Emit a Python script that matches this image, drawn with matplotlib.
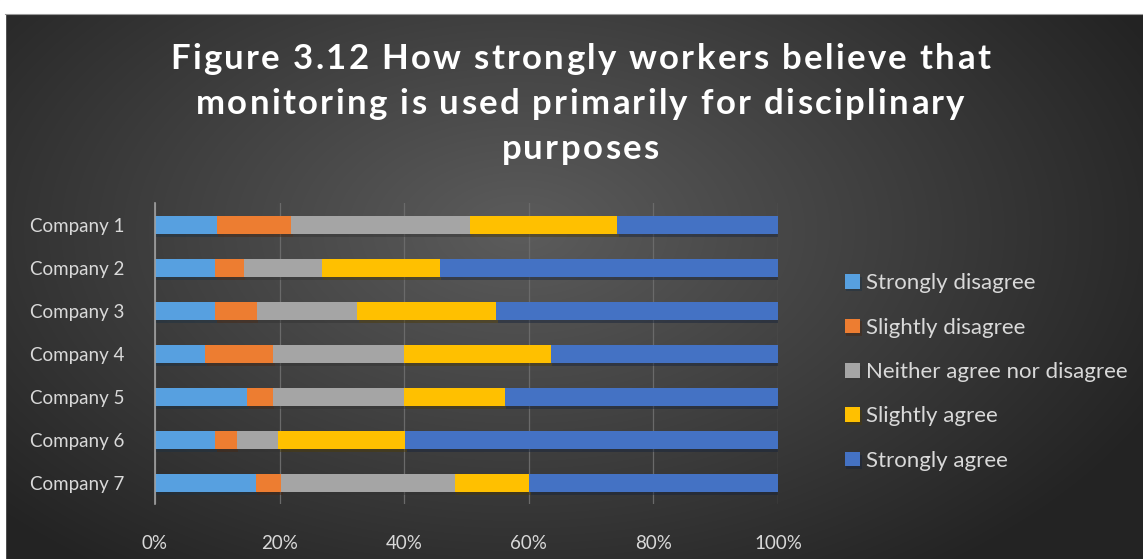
import numpy as np
import matplotlib
matplotlib.use('Agg')
import matplotlib.pyplot as plt
import matplotlib.patheffects as pe
from matplotlib import font_manager as fm
from matplotlib.ft2font import FT2Font
from matplotlib.patches import Rectangle
from matplotlib.ticker import PercentFormatter

companies = ['Company 1', 'Company 2', 'Company 3', 'Company 4',
             'Company 5', 'Company 6', 'Company 7']
series = ['Strongly disagree', 'Slightly disagree', 'Neither agree nor disagree',
          'Slightly agree', 'Strongly agree']
strongly_disagree = [9.9, 9.7, 9.7, 8.1, 14.8, 9.7, 16.2]
slightly_disagree = [12.0, 4.6, 6.6, 10.9, 4.1, 3.4, 4.1]
neither = [28.6, 12.5, 16.2, 20.9, 21.1, 6.7, 27.8]
slightly_agree = [23.7, 18.9, 22.3, 23.6, 16.1, 20.4, 12.0]
strongly_agree = [25.8, 54.3, 45.2, 36.5, 43.9, 59.8, 39.9]
colors = ['#57A0E0', '#ED7D31', '#A5A5A5', '#FFC000', '#4472C4']

title_lines = ['Figure 3.12 How strongly workers believe that',
               'monitoring is used primarily for disciplinary',
               'purposes']

plt.rcParams['font.family'] = ['Lato', 'DejaVu Sans']

W, H = 1143, 559
fig = plt.figure(figsize=(W / 100, H / 100), dpi=100)


def spaced_line(text, xc, baseline, size, track):
    # excel-style letter spacing: place each glyph by its advance + tracking
    path = fm.findfont(fm.FontProperties(family='Lato', weight='bold'))
    font = FT2Font(path)
    font.set_size(size, 100)
    adv = []
    for ch in text:
        g = font.load_char(ord(ch))
        adv.append(g.linearHoriAdvance / 65536.0)
    total = sum(adv) + track * (len(text) - 1)
    x = xc - total / 2.0
    for ch, a in zip(text, adv):
        if ch != ' ':
            fig.text(x / W, 1 - baseline / H, ch, ha='left', va='baseline',
                     color='white', fontsize=size, fontweight='bold')
        x += a + track


# dark radial gradient background
bg = fig.add_axes([0, 0, 1, 1], zorder=-10)
yy, xx = np.mgrid[0:H, 0:W]
r = np.sqrt(((xx - 520) / 700.0) ** 2 + ((yy - 230) / 420.0) ** 2)
shade = np.clip(0.36 - 0.22 * r, 0.14, 0.36)
bg.imshow(np.dstack([shade] * 3), extent=[0, W, H, 0], aspect='auto')
bg.add_patch(Rectangle((0, 0), W, 13, color='white', zorder=3))
bg.add_patch(Rectangle((0, 0), 5, H, color='white', zorder=3))
bg.plot([5, W], [13.5, 13.5], color='#9a9a9a', lw=0.8, zorder=4)
bg.set_xlim(0, W)
bg.set_ylim(H, 0)
bg.axis('off')

ax = fig.add_axes([0.1356, 0.0975, 0.5451, 0.5385])
ax.set_facecolor('none')

data = [strongly_disagree, slightly_disagree, neither, slightly_agree, strongly_agree]
y = np.arange(len(companies))
left = np.zeros(len(companies))
shadow = [pe.SimplePatchShadow(offset=(1, -2), alpha=0.45), pe.Normal()]
for name, vals, c in zip(series, data, colors):
    bars = ax.barh(y, vals, left=left, height=0.42, color=c, label=name, zorder=3)
    for b in bars:
        b.set_path_effects(shadow)
    left += np.array(vals)

ax.set_xlim(0, 100)
ax.set_ylim(6.5, -0.5)
ax.set_yticks(y)
ax.set_yticklabels(companies)
ax.set_xticks([0, 20, 40, 60, 80, 100])
ax.xaxis.set_major_formatter(PercentFormatter(decimals=0))
ax.tick_params(axis='both', length=0, labelsize=13.5, colors='#d9d9d9')
ax.tick_params(axis='x', pad=22)
ax.tick_params(axis='y', pad=22)
ax.grid(axis='x', color='#6a6a6a', lw=0.9, zorder=0)
for s in ['top', 'right', 'bottom']:
    ax.spines[s].set_visible(False)
ax.spines['left'].set_color('#a0a0a0')
ax.spines['left'].set_linewidth(1.2)
ax.spines['left'].set_zorder(4)

for i, line in enumerate(title_lines):
    spaced_line(line, 580, 69 + 45 * i, 25, 2.3)

leg = ax.legend(loc='center left', bbox_to_anchor=(1.1075, 0.44), frameon=False,
                fontsize=16, labelcolor='#d9d9d9', handlelength=0.68,
                handleheight=0.63, handletextpad=0.25, labelspacing=1.1,
                borderpad=0, borderaxespad=0)

fig.savefig('out.png', dpi=100)
